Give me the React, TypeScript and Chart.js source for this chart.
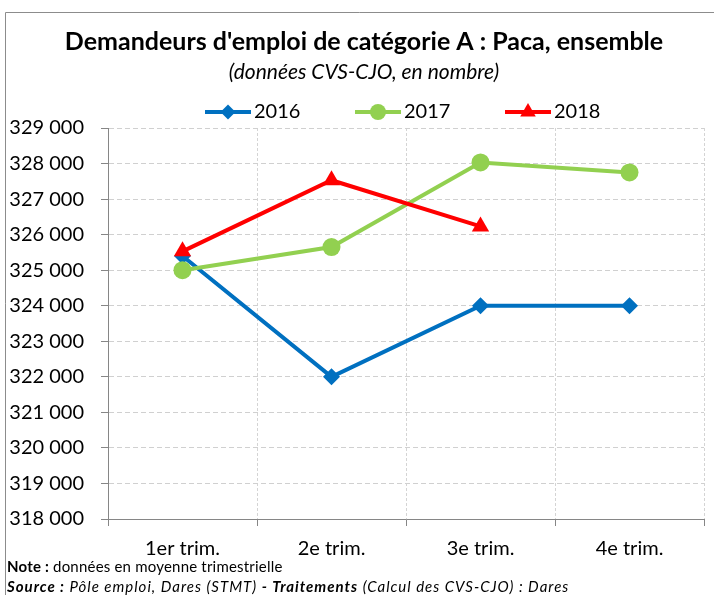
import React, { useEffect, useRef } from "react";
import { Chart, registerables } from "chart.js";

Chart.register(...registerables);

const categories = ["1er trim.", "2e trim.", "3e trim.", "4e trim."];
const seriesNames = ["2016", "2017", "2018"];
const values2016 = [325400, 322000, 324000, 324000];
const values2017 = [325000, 325650, 328030, 327750];
const values2018 = [325530, 327530, 326230, null];
const yMin = 318000;
const yMax = 329000;
const yStep = 1000;

const titleText = "Demandeurs d'emploi de catégorie A : Paca, ensemble";
const subtitleText = "(données CVS-CJO, en nombre)";
const noteParts = [
  { t: "Note :", f: "bold 15px Lato" },
  { t: " données en moyenne trimestrielle", f: "15px Lato" },
];
const sourceParts = [
  { t: "Source :", f: "italic bold 15px Lato" },
  { t: " Pôle emploi, Dares (STMT) ", f: "italic 15px Lato" },
  { t: "- Traitements", f: "italic bold 15px Lato" },
  { t: " (Calcul des CVS-CJO) : Dares", f: "italic 15px Lato" },
];

const BLUE = "#0070C0";
const GREEN = "#92D050";
const RED = "#FF0000";
const colors = [BLUE, GREEN, RED];
const pointStyles = ["rectRot", "circle", "triangle"];
const pointRadii = [8.5, 9, 10];

const W = 714;
const H = 595;

function fmt(v: number) {
  return String(v).replace(/\B(?=(\d{3})+(?!\d))/g, " ");
}

function drawMarker(ctx: CanvasRenderingContext2D, style: string, x: number, y: number, r: number, color: string) {
  ctx.fillStyle = color;
  ctx.beginPath();
  if (style === "circle") {
    ctx.arc(x, y, r, 0, Math.PI * 2);
  } else if (style === "rectRot") {
    ctx.moveTo(x, y - r);
    ctx.lineTo(x + r, y);
    ctx.lineTo(x, y + r);
    ctx.lineTo(x - r, y);
    ctx.closePath();
  } else {
    const h = r * 1.5;
    const s = r * Math.sqrt(3);
    ctx.moveTo(x, y - r);
    ctx.lineTo(x + s / 2, y - r + h);
    ctx.lineTo(x - s / 2, y - r + h);
    ctx.closePath();
  }
  ctx.fill();
}

const decorPlugin = {
  id: "decor",
  beforeDraw(chart: any) {
    const ctx = chart.ctx as CanvasRenderingContext2D;
    ctx.save();
    ctx.fillStyle = "#ffffff";
    ctx.fillRect(0, 0, W, H);
    ctx.strokeStyle = "#8c8c8c";
    ctx.lineWidth = 1;
    ctx.beginPath();
    ctx.moveTo(5.5, H);
    ctx.lineTo(5.5, 12.5);
    ctx.lineTo(W, 12.5);
    ctx.stroke();
    ctx.restore();
  },
  afterDraw(chart: any) {
    const ctx = chart.ctx as any;
    ctx.save();
    ctx.fillStyle = "#000";
    ctx.textBaseline = "middle";
    ctx.textAlign = "center";
    ctx.font = "bold 25px Lato";
    ctx.fillText(titleText, 364, 42);
    ctx.font = "italic 21px Lato";
    ctx.fillText(subtitleText, 364, 72);

    // legend
    const legendX = [205, 355, 505];
    const ly = 112;
    ctx.textAlign = "left";
    ctx.font = "20px Lato";
    seriesNames.forEach((name, i) => {
      const x0 = legendX[i];
      ctx.strokeStyle = colors[i];
      ctx.lineWidth = 4;
      ctx.beginPath();
      ctx.moveTo(x0, ly);
      ctx.lineTo(x0 + 46, ly);
      ctx.stroke();
      drawMarker(ctx, pointStyles[i], x0 + 23, ly, pointRadii[i] - 1, colors[i]);
      ctx.fillStyle = "#000";
      ctx.fillText(name, x0 + 49, ly);
    });

    // footnotes
    const drawParts = (parts: { t: string; f: string }[], x: number, y: number, spacing: string) => {
      let cx = x;
      ctx.letterSpacing = spacing;
      parts.forEach((p) => {
        ctx.font = p.f;
        ctx.fillText(p.t, cx, y);
        cx += ctx.measureText(p.t).width;
      });
      ctx.letterSpacing = "0px";
    };
    ctx.fillStyle = "#000";
    drawParts(noteParts, 7, 567, "0.2px");
    drawParts(sourceParts, 7, 587, "1px");
    ctx.restore();
  },
};

export default function App() {
  const ref = useRef<HTMLCanvasElement>(null);
  useEffect(() => {
    if (!ref.current) return;
    const datasets = [values2016, values2017, values2018].map((vals, i) => ({
      label: seriesNames[i],
      data: vals,
      borderColor: colors[i],
      backgroundColor: colors[i],
      borderWidth: 4,
      pointStyle: pointStyles[i],
      pointRadius: pointRadii[i],
      pointBorderWidth: 0,
      pointBackgroundColor: colors[i],
      order: 2 - i,
      tension: 0,
      spanGaps: false,
    }));
    const chart = new Chart(ref.current, {
      type: "line",
      data: { labels: categories, datasets: datasets as any },
      plugins: [decorPlugin as any],
      options: {
        responsive: false,
        animation: false,
        devicePixelRatio: 1,
        layout: { padding: { top: 128, left: 0, right: 6, bottom: 26 } },
        plugins: {
          legend: { display: false },
          title: { display: false },
          tooltip: { enabled: false },
        },
        scales: {
          x: {
            type: "category",
            offset: true,
            afterFit: (s: any) => {
              s.height = 50;
            },
            grid: {
              offset: true,
              color: "#d4d4d4",
              lineWidth: 1,
              tickLength: 7,
              tickColor: "#868686",
              tickBorderDash: [],
            },
            border: { display: true, color: "#868686", width: 1, dash: [3, 2] },
            ticks: {
              color: "#000",
              font: { family: "Lato", size: 20 },
              padding: 11,
              maxRotation: 0,
            },
          },
          y: {
            min: yMin,
            max: yMax,
            afterFit: (s: any) => {
              s.width = 108;
            },
            grid: {
              color: "#d0d0d0",
              lineWidth: 1,
              tickLength: 7,
              tickColor: "#868686",
              tickBorderDash: [],
            },
            border: { display: true, color: "#868686", width: 1, dash: [5, 3] },
            ticks: {
              stepSize: yStep,
              color: "#000",
              font: { family: "Lato", size: 20 },
              padding: 17,
              callback: (v: any) => fmt(Number(v)),
            },
          },
        },
      } as any,
    });
    return () => chart.destroy();
  }, []);
  return (
    <canvas
      ref={ref}
      width={W}
      height={H}
      style={{ position: "fixed", left: 0, top: 0, width: W, height: H, display: "block" }}
    />
  );
}
